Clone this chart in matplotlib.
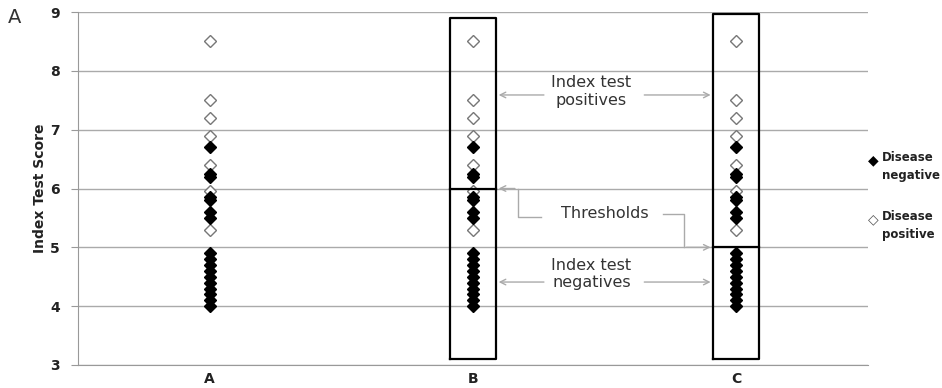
import numpy as np
import matplotlib.pyplot as plt

# Index test scores, same patients shown in each panel
categories = ['A', 'B', 'C']
neg_scores = [6.7, 6.2, 6.25, 5.85, 5.8, 5.6, 5.5, 4.9, 4.8, 4.7, 4.6, 4.5, 4.4, 4.3, 4.2, 4.1, 4.0]
pos_scores = [8.5, 7.5, 7.2, 6.9, 6.4, 5.95, 5.3]
thresholds = {'B': 6.0, 'C': 5.0}
box_top = {'B': 8.9, 'C': 8.97}
box_bottom = 3.1
y_ticks = [3, 4, 5, 6, 7, 8, 9]

fig = plt.figure(figsize=(9.42, 3.88), dpi=100)
ax = fig.add_axes([0.0828, 0.0593, 0.8386, 0.9097])

x = np.arange(1, len(categories) + 1)
for xi in x:
    ax.plot([xi] * len(pos_scores), pos_scores, 'D', ms=6.5, mfc='white', mec='#777777',
            mew=1.0, ls='none', zorder=3)
    ax.plot([xi] * len(neg_scores), neg_scores, 'D', ms=6.5, mfc='black', mec='black',
            ls='none', zorder=4)

# threshold boxes
hw = 0.087
for cat, thr in thresholds.items():
    xi = categories.index(cat) + 1
    ax.plot([xi - hw, xi + hw, xi + hw, xi - hw, xi - hw],
            [box_bottom, box_bottom, box_top[cat], box_top[cat], box_bottom],
            color='black', lw=1.6, zorder=5)
    ax.plot([xi - hw, xi + hw], [thr, thr], color='black', lw=1.6, zorder=5)

ax.set_xlim(0.5, 3.5)
ax.set_ylim(3, 9)
ax.set_xticks(x)
ax.set_xticklabels(categories, fontweight='bold', fontsize=10, color='#222222')
ax.set_yticks(y_ticks)
ax.set_yticklabels([str(t) for t in y_ticks], fontweight='bold', fontsize=10, color='#222222')
ax.tick_params(axis='x', length=0, pad=5)
ax.tick_params(axis='y', length=5, color='#999999', direction='out', pad=8)
ax.yaxis.grid(True, color='#aaaaaa', lw=1)
ax.set_axisbelow(True)
for s in ['top', 'right']:
    ax.spines[s].set_visible(False)
ax.spines['left'].set_color('#999999')
ax.spines['bottom'].set_color('#999999')
ax.set_ylabel('Index Test Score', fontweight='bold', fontsize=10, color='#222222', labelpad=2)

# annotations
acol = '#aaaaaa'
tcol = '#333333'
bx = 2 + hw
cx = 3 - hw
aprops = dict(arrowstyle='->', color=acol, lw=1)
ax.text(2.45, 7.65, 'Index test\npositives', ha='center', va='center', fontsize=11.5, color=tcol)
ax.annotate('', xy=(bx, 7.59), xytext=(2.28, 7.59), arrowprops=aprops)
ax.annotate('', xy=(cx, 7.59), xytext=(2.64, 7.59), arrowprops=aprops)

ax.text(2.5, 5.57, 'Thresholds', ha='center', va='center', fontsize=11.5, color=tcol)
ax.annotate('', xy=(bx, 6.0), xytext=(2.17, 6.0), arrowprops=aprops)
ax.plot([2.17, 2.17, 2.26], [6.0, 5.52, 5.52], color=acol, lw=1)
ax.plot([2.72, 2.8, 2.8], [5.57, 5.57, 5.0], color=acol, lw=1)
ax.annotate('', xy=(cx, 5.0), xytext=(2.8, 5.0), arrowprops=aprops)

ax.text(2.45, 4.55, 'Index test\nnegatives', ha='center', va='center', fontsize=11.5, color=tcol)
ax.annotate('', xy=(bx, 4.41), xytext=(2.28, 4.41), arrowprops=aprops)
ax.annotate('', xy=(cx, 4.41), xytext=(2.64, 4.41), arrowprops=aprops)

# legend drawn by hand at right
fig.text(0.921, 0.588, '\u25c6', fontsize=10, color='black', ha='left', va='center', family='DejaVu Sans')
fig.text(0.936, 0.61, 'Disease\nnegative', fontsize=8.5, fontweight='bold', color='#222222',
         ha='left', va='top', linespacing=1.5)
fig.text(0.921, 0.436, '\u25c7', fontsize=10, color='#555555', ha='left', va='center', family='DejaVu Sans')
fig.text(0.936, 0.458, 'Disease\npositive', fontsize=8.5, fontweight='bold', color='#222222',
         ha='left', va='top', linespacing=1.5)

fig.text(0.008, 0.955, 'A', fontsize=14, color='#333333', ha='left', va='center')

fig.savefig('out.png', dpi=100)
